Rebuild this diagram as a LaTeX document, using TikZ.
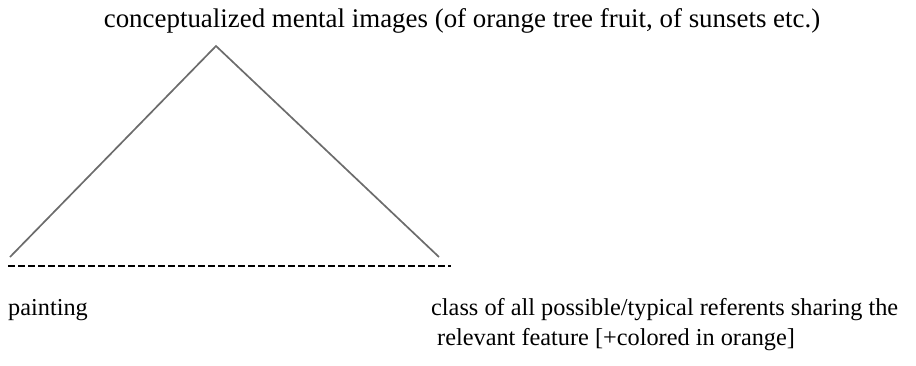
\documentclass[tikz,border=0pt]{standalone}
\usepackage{fontspec}
\setmainfont{Liberation Serif}
\usetikzlibrary{positioning}

\begin{document}
\begin{tikzpicture}[
  x=1pt, y=-1pt,
  font=\fontsize{26.9}{32}\selectfont,
  label/.style={inner sep=0pt, anchor=base west},
  small/.style={label, font=\fontsize{24.3}{30}\selectfont, align=left},
  side/.style={draw=gray!85!black, line width=1.7pt},
  base/.style={draw=black, line width=2.6pt, dash pattern=on 7pt off 3pt}
]
\useasboundingbox (0,0) rectangle (916,365);

\node[inner sep=0pt, anchor=base] (images) at (462,27) {conceptualized mental images (of orange tree fruit, of sunsets etc.)};

\coordinate (apex) at (216,46);
\coordinate (left) at (10,257);
\coordinate (right) at (439,257);
\coordinate (dashstart) at (8,266);
\coordinate (dashend) at (451,266);

\node[small] (painting) at (8,315) {painting};
\node[small] (class) at (431,345) {class of all possible/typical referents sharing the\\[0pt]
  \hspace{6pt}relevant feature [+colored in orange]};

\draw[side] (left) -- (apex) -- (right);
\draw[base] (dashstart) -- (dashend);
\end{tikzpicture}
\end{document}
